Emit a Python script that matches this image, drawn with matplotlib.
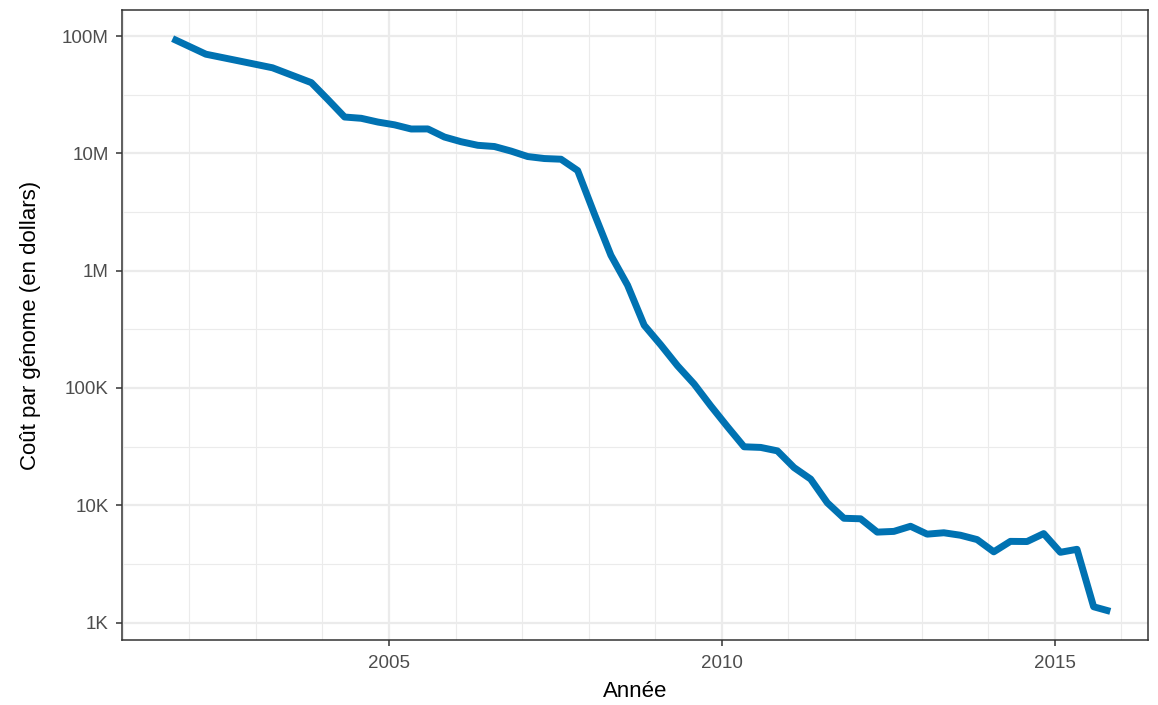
import matplotlib.pyplot as plt
import numpy as np
from matplotlib.ticker import FixedLocator, MultipleLocator

# NHGRI cost per genome, end-of-month dates
years = [2001, 2002, 2002, 2003, 2003, 2004, 2004, 2004, 2004, 2005, 2005, 2005, 2005,
         2006, 2006, 2006, 2006, 2007, 2007, 2007, 2007, 2008, 2008, 2008, 2008,
         2009, 2009, 2009, 2009, 2010, 2010, 2010, 2010, 2011, 2011, 2011, 2011,
         2012, 2012, 2012, 2012, 2013, 2013, 2013, 2013, 2014, 2014, 2014, 2014,
         2015, 2015, 2015, 2015]
months = [9, 3, 9, 3, 10, 1, 4, 7, 10, 1, 4, 7, 10,
          1, 4, 7, 10, 1, 4, 7, 10, 1, 4, 7, 10,
          1, 4, 7, 10, 1, 4, 7, 10, 1, 4, 7, 10,
          1, 4, 7, 10, 1, 4, 7, 10, 1, 4, 7, 10,
          1, 4, 7, 10]
cost = [95263072, 70175437, 61448422, 53751684, 40157554, 28780376, 20442576,
        19934346, 18519312, 17534970, 16159699, 16180224, 13801124, 12585659,
        11732535, 11455315, 10474556, 9408739, 9047003, 8927342, 7147571,
        3063820, 1352982, 752080, 342502, 232735, 154714, 108065, 70333,
        46774, 31512, 31125, 29092, 20963, 16712, 10497, 7743, 7666, 5901,
        5985, 6618, 5671, 5826, 5550, 5096, 4008, 4920, 4905, 5731, 3970,
        4211, 1363, 1245]

y_ticks = [1e3, 1e4, 1e5, 1e6, 1e7, 1e8]
y_labels = ["1K", "10K", "100K", "1M", "10M", "100M"]
x_ticks = [2005, 2010, 2015]

x = np.array(years) + np.array(months) / 12.0
ly = np.log10(cost)

plt.rcParams["font.family"] = ["Liberation Sans", "DejaVu Sans"]

fig = plt.figure(figsize=(11.58, 7.05), dpi=100)
ax = fig.add_axes([122 / 1158, 65 / 705, 1026 / 1158, 630 / 705])

ax.plot(x, ly, color="#0072B2", lw=5.0, solid_capstyle="butt", solid_joinstyle="round", zorder=3)

ax.set_xlim(2000.99, 2016.40)
yr = ly.max() - ly.min()
ax.set_ylim(ly.min() - 0.05 * yr, ly.max() + 0.05 * yr)

ax.xaxis.set_major_locator(FixedLocator(x_ticks))
ax.xaxis.set_minor_locator(MultipleLocator(1))
ax.yaxis.set_major_locator(FixedLocator(np.log10(y_ticks)))
ax.yaxis.set_minor_locator(FixedLocator(np.log10(y_ticks[:-1]) + 0.5))
ax.set_yticklabels(y_labels)

ax.grid(which="major", color="#EBEBEB", lw=1.6, zorder=0)
ax.grid(which="minor", color="#EBEBEB", lw=0.8, zorder=0)
ax.set_axisbelow(True)
ax.tick_params(which="minor", length=0)
ax.tick_params(which="major", length=4.5, width=1.1, color="#333333",
               labelsize=13.5, labelcolor="#4D4D4D")
ax.tick_params(axis="x", pad=6)
ax.tick_params(axis="y", pad=5)
for s in ax.spines.values():
    s.set_color("#333333")
    s.set_linewidth(1.1)

ax.set_xlabel("Année", fontsize=16, color="black", labelpad=7)
ax.set_ylabel("Coût par génome (en dollars)", fontsize=16, color="black", labelpad=15)

fig.savefig("out.png", dpi=100)
